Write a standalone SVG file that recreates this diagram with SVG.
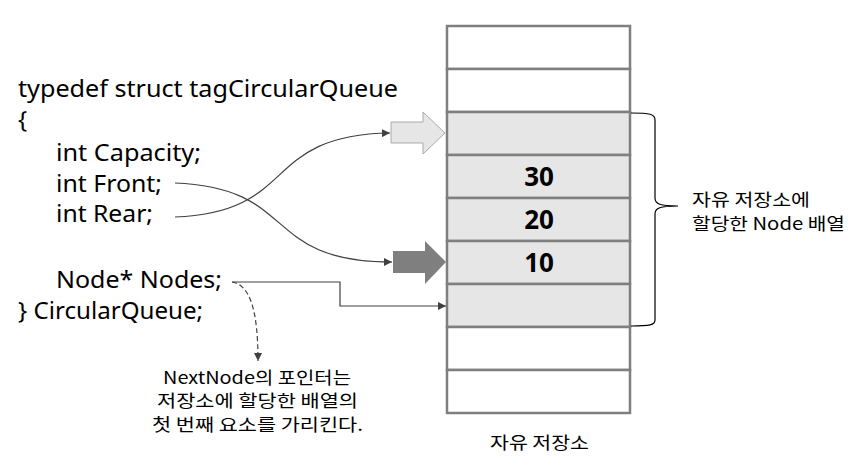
<svg xmlns="http://www.w3.org/2000/svg" width="864" height="474" viewBox="0 0 864 474">
<style>
.code{font-family:"Noto Sans","Noto Sans CJK KR",sans-serif;font-size:24px;fill:#000}
.ko{font-family:"Noto Sans CJK KR","Noto Sans",sans-serif;font-size:17px;fill:#000}
.num{font-family:"Noto Sans","Noto Sans CJK KR",sans-serif;font-size:26px;font-weight:bold;fill:#000;text-anchor:middle}
.cell{stroke:#7f7f7f;stroke-width:2.5}
.conn{fill:none;stroke:#404040;stroke-width:1.2}
</style>
<defs>
<marker id="ah" viewBox="0 0 10 10" refX="10" refY="5" markerWidth="8" markerHeight="8" orient="auto" markerUnits="userSpaceOnUse">
<path d="M0,0 L10,5 L0,10 z" fill="#404040"/>
</marker>
</defs>
<rect width="864" height="474" fill="#fff"/>
<g id="code">
<text class="code" x="18" y="97" textLength="380" lengthAdjust="spacingAndGlyphs">typedef struct  tagCircularQueue</text>
<text class="code" x="18" y="128">{</text>
<text class="code" x="56" y="161" textLength="145" lengthAdjust="spacingAndGlyphs">int Capacity;</text>
<text class="code" x="56" y="192" textLength="106" lengthAdjust="spacingAndGlyphs">int Front;</text>
<text class="code" x="56" y="222" textLength="97" lengthAdjust="spacingAndGlyphs">int Rear;</text>
<text class="code" x="56" y="288" textLength="166" lengthAdjust="spacingAndGlyphs">Node* Nodes;</text>
<text class="code" x="18" y="319" textLength="185" lengthAdjust="spacingAndGlyphs">} CircularQueue;</text>
</g>
<g id="storage">
<rect class="cell" x="447" y="26" width="183" height="43" fill="#fff"/>
<rect class="cell" x="447" y="69" width="183" height="43" fill="#fff"/>
<rect class="cell" x="447" y="112" width="183" height="43" fill="#e6e6e6"/>
<rect class="cell" x="447" y="155" width="183" height="43" fill="#e6e6e6"/>
<rect class="cell" x="447" y="198" width="183" height="43" fill="#e6e6e6"/>
<rect class="cell" x="447" y="241" width="183" height="43" fill="#e6e6e6"/>
<rect class="cell" x="447" y="284" width="183" height="43" fill="#e6e6e6"/>
<rect class="cell" x="447" y="327" width="183" height="43" fill="#fff"/>
<rect class="cell" x="447" y="370" width="183" height="43" fill="#fff"/>
<text class="num" x="539" y="186">30</text>
<text class="num" x="539" y="229">20</text>
<text class="num" x="539" y="272">10</text>
<text class="ko" x="490" y="449" textLength="99" lengthAdjust="spacingAndGlyphs">자유 저장소</text>
</g>
<g id="brace">
<path d="M631,113 C650,113 655,114 655,120 L655,198 C655,204 660,206 678,206 C660,206 655,208 655,214 L655,320 C655,325 650,326 631,326" fill="none" stroke="#000" stroke-width="1.2"/>
<text class="ko" x="692" y="206" textLength="118" lengthAdjust="spacingAndGlyphs">자유 저장소에</text>
<text class="ko" x="692" y="230" textLength="153" lengthAdjust="spacingAndGlyphs">할당한 Node 배열</text>
</g>
<g id="front-arrow">
<path d="M391,122 L423,122 L423,112 L445,133 L423,154 L423,143 L391,143 z" fill="#e6e6e6" stroke="#aaaaaa" stroke-width="1"/>
</g>
<g id="rear-arrow">
<path d="M393,251 L425,251 L425,241 L446,262 L425,284 L425,273 L393,273 z" fill="#7f7f7f"/>
</g>
<g id="note">
<text class="ko" x="163" y="384" textLength="188" lengthAdjust="spacingAndGlyphs">NextNode의 포인터는</text>
<text class="ko" x="157" y="407" textLength="201" lengthAdjust="spacingAndGlyphs">저장소에 할당한 배열의</text>
<text class="ko" x="152" y="431" textLength="211" lengthAdjust="spacingAndGlyphs">첫 번째 요소를 가리킨다.</text>
</g>
<g id="connectors">
<path class="conn" d="M175,217 C300,212 260,135 390,133" marker-end="url(#ah)"/>
<path class="conn" d="M175,183 C300,188 260,262 392,262" marker-end="url(#ah)"/>
<path class="conn" d="M232,282 L340,282 L340,306 L446,306" marker-end="url(#ah)"/>
<path class="conn" d="M232,282 C250,285 258,310 258,361" stroke-dasharray="5,3" marker-end="url(#ah)"/>
</g>
</svg>
